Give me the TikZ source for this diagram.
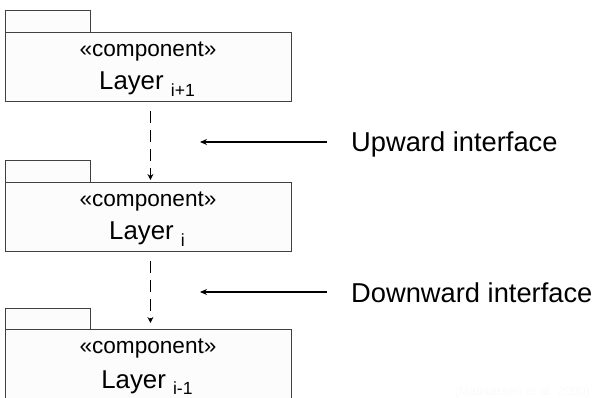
\documentclass[tikz,border=0pt]{standalone}
\usepackage{fontspec}
\setmainfont{Liberation Sans}
\usetikzlibrary{arrows.meta}
\tikzset{
  x=1pt, y=-1pt,
  pkgbody/.style={draw=black!75, fill=black!1, line width=0.8pt, rectangle,
    minimum width=286pt, minimum height=69pt, inner sep=0pt, anchor=north west},
  pkgtab/.style={draw=black!75, fill=black!1, line width=0.8pt},
  stereo/.style={anchor=base, inner sep=0pt, font=\fontsize{22.6}{26}\selectfont},
  layername/.style={anchor=base, inner sep=0pt, font=\fontsize{25.8}{30}\selectfont},
  depend/.style={draw=black, line width=1.6pt, dash pattern=on 12pt off 7pt,
    -{Stealth[length=6pt,width=6pt]}},
  pointer/.style={draw=black, line width=1.4pt, -{Stealth[length=7pt,width=6pt]}},
  iflabel/.style={anchor=base west, inner sep=0pt, font=\fontsize{27.3}{32}\selectfont},
}
\newcommand{\layersub}[1]{\raisebox{-6.5pt}{\fontsize{17.6}{20}\selectfont #1}}
\begin{document}
\begin{tikzpicture}
  \useasboundingbox (0,0) rectangle (597,398);
  \clip (0,0) rectangle (597,398);

  % upper layer package
  \draw[pkgtab] (5,10) rectangle (90,32);
  \node[pkgbody] (b1) at (5,32) {};
  \node[stereo] (s1) at (148,57) {«component»};
  \node[layername] (l1) at (147,90) {Layer \layersub{i+1}};

  % middle layer package
  \draw[pkgtab] (5,160) rectangle (90,182);
  \node[pkgbody] (b2) at (5,182) {};
  \node[stereo] (s2) at (148,207) {«component»};
  \node[layername] (l2) at (147,240) {Layer \layersub{i}};

  % lower layer package (runs off the bottom edge)
  \draw[pkgtab] (5,308) rectangle (90,329);
  \node[pkgbody, minimum height=80pt] (b3) at (5,329) {};
  \node[stereo] (s3) at (148,353) {«component»};
  \node[layername] (l3) at (147,388) {Layer \layersub{i-1}};

  % dependencies between layers
  \draw[depend] ([xshift=2pt,yshift=-9pt]b1.south) -- ([xshift=2pt,yshift=2pt]b2.north);
  \draw[depend] ([xshift=2pt,yshift=-9pt]b2.south) -- ([xshift=2pt,yshift=6pt]b3.north);

  % interface labels with pointers
  \node[iflabel] (up) at (351,152) {Upward interface};
  \coordinate (upstart) at (327,142);
  \coordinate (upend) at (200,142);
  \draw[pointer] (upstart) -- (upend);

  \node[iflabel] (down) at (351,302) {Downward interface};
  \coordinate (downstart) at (327,292);
  \coordinate (downend) at (200,292);
  \draw[pointer] (downstart) -- (downend);

  % source note
  \node[anchor=base east, inner sep=0pt, text=black!2,
    font=\fontsize{12.5}{15}\selectfont] (src) at (590,395) {(Mathiassen et al. 2000)};
\end{tikzpicture}
\end{document}
